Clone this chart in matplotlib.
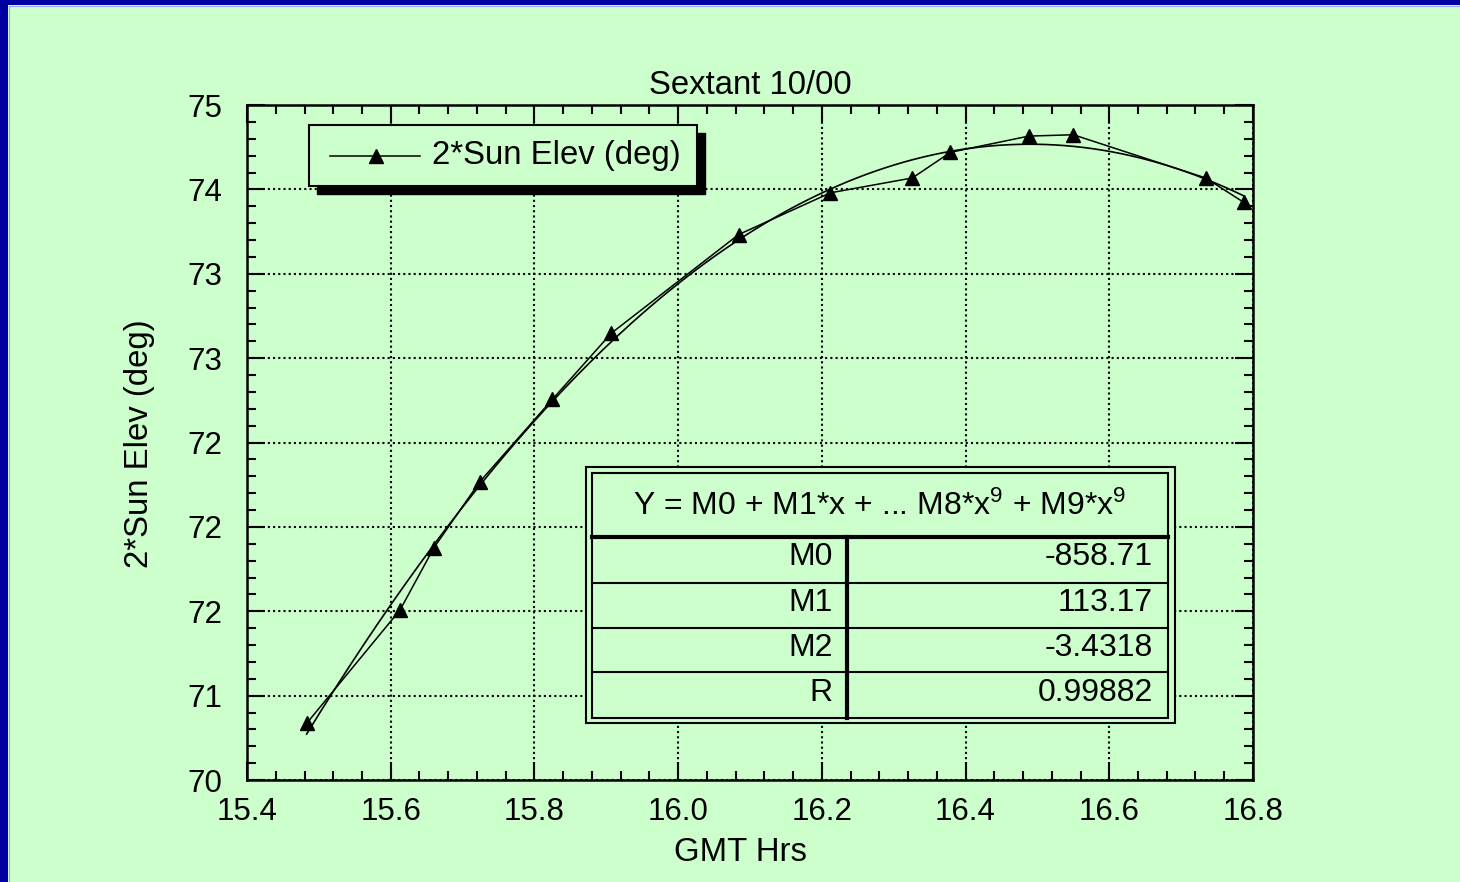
import numpy as np
import matplotlib.pyplot as plt
from matplotlib.patches import Rectangle
from matplotlib.lines import Line2D
from matplotlib.ticker import MultipleLocator

# Sextant readings, 10/00
gmt_hrs = [15.483, 15.613, 15.660, 15.724, 15.825, 15.907, 16.084,
           16.212, 16.326, 16.379, 16.488, 16.550, 16.734, 16.787]
sun_elev = [70.42, 71.26, 71.72, 72.21, 72.82, 73.31, 74.04,
            74.35, 74.46, 74.65, 74.77, 74.78, 74.46, 74.28]

x_ticks = [15.4, 15.6, 15.8, 16.0, 16.2, 16.4, 16.6, 16.8]
x_tick_labels = ["15.4", "15.6", "15.8", "16.0", "16.2", "16.4", "16.6", "16.8"]
y_tick_labels = ["70", "71", "72", "72", "72", "73", "73", "74", "75"]

fit_header = r"Y = M0 + M1*x + ... M8*x$^9$ + M9*x$^9$"
fit_names = ["M0", "M1", "M2", "R"]
fit_values = ["-858.71", "113.17", "-3.4318", "0.99882"]

BG = "#CCFFCC"
BLUE = "#0000A0"

plt.rcParams['font.family'] = ['Liberation Sans', 'DejaVu Sans']
plt.rcParams['mathtext.fontset'] = 'custom'
plt.rcParams['mathtext.rm'] = 'Liberation Sans'
plt.rcParams['mathtext.default'] = 'rm'
FS = 22.5      # tick labels
FS_TEXT = 23.7  # title, axis labels, legend
FS_TABLE = 23.0


def draw_legend(ax):
    """Boxed legend with a solid drop shadow, like the old Mac plot."""
    x0, y0, w, h = 0.0616, 0.880, 0.3857, 0.0904
    ax.add_patch(Rectangle((x0 + 0.008, y0 - 0.012), w, h, transform=ax.transAxes,
                           facecolor='black', edgecolor='black', zorder=6, clip_on=False))
    ax.add_patch(Rectangle((x0, y0), w, h, transform=ax.transAxes,
                           facecolor=BG, edgecolor='black', linewidth=1.5, zorder=7,
                           clip_on=False))
    yc = y0 + h / 2
    ax.add_line(Line2D([0.0825, 0.172], [yc, yc], transform=ax.transAxes,
                       color='black', linewidth=1.1, zorder=8))
    ax.add_line(Line2D([0.1282], [yc], transform=ax.transAxes, marker='^',
                       markersize=10, color='black', zorder=8))
    ax.text(0.1839, yc, "2*Sun Elev (deg)", transform=ax.transAxes, fontsize=FS_TEXT,
            ha='left', va='center', zorder=8)


def draw_fit_table(ax):
    """Curve fit results box in the lower right of the plot."""
    tr = ax.transAxes
    ox0, ox1, oy0, oy1 = 0.3369, 0.9225, 0.0844, 0.4641
    ix0, ix1, iy0, iy1 = 0.3426, 0.9155, 0.0923, 0.4553
    ax.add_patch(Rectangle((ox0, oy0), ox1 - ox0, oy1 - oy0, transform=tr,
                           facecolor=BG, edgecolor='black', linewidth=1.5, zorder=6))
    ax.add_patch(Rectangle((ix0, iy0), ix1 - ix0, iy1 - iy0, transform=tr,
                           facecolor=BG, edgecolor='black', linewidth=1.5, zorder=7))
    header_y = 0.3596
    ax.add_line(Line2D([ix0, ix1], [header_y, header_y], transform=tr,
                       color='black', linewidth=3, zorder=8))
    for yl in [0.2923, 0.2256, 0.1604]:
        ax.add_line(Line2D([ix0, ix1], [yl, yl], transform=tr,
                           color='black', linewidth=1.5, zorder=8))
    ax.add_line(Line2D([0.5961, 0.5961], [iy0, header_y], transform=tr,
                       color='black', linewidth=3, zorder=8))
    ax.text((ix0 + ix1) / 2, 0.4049, fit_header, transform=tr, fontsize=FS_TABLE,
            ha='center', va='center', zorder=9)
    row_y = [0.3308, 0.2622, 0.1956, 0.1289]
    for name, value, yc in zip(fit_names, fit_values, row_y):
        ax.text(0.5821, yc, name, transform=tr, fontsize=FS_TABLE,
                ha='right', va='center', zorder=9)
        ax.text(0.9006, yc, value, transform=tr, fontsize=FS_TABLE,
                ha='right', va='center', zorder=9)


fig = plt.figure(figsize=(14.6, 8.82), dpi=100, facecolor=BG)

# blue frame along top and left edges
fig.add_artist(Rectangle((0, 1 - 5 / 882), 1, 5 / 882, transform=fig.transFigure,
                         facecolor=BLUE, edgecolor='none'))
fig.add_artist(Rectangle((0, 0), 8 / 1460, 1, transform=fig.transFigure,
                         facecolor=BLUE, edgecolor='none'))
fig.add_artist(Line2D([8.5 / 1460, 1], [1 - 5.5 / 882, 1 - 5.5 / 882],
                      transform=fig.transFigure, color='#A0A0FF', linewidth=0.8))
fig.add_artist(Line2D([8.5 / 1460, 8.5 / 1460], [0, 1 - 5.5 / 882],
                      transform=fig.transFigure, color='#A0A0FF', linewidth=0.8))

ax = fig.add_axes([0.1692, 0.1156, 0.689, 0.7653])
ax.set_facecolor(BG)

# quadratic least squares fit of the readings (the fit curve in the plot)
coeffs = np.polyfit(gmt_hrs, sun_elev, 2)
fit_x = np.linspace(gmt_hrs[0], gmt_hrs[-1], 200)
ax.plot(fit_x, np.polyval(coeffs, fit_x), color='black', linewidth=1.2, zorder=4)
ax.plot(gmt_hrs, sun_elev, color='black', linewidth=1.1, marker='^',
        markersize=10, zorder=5)

ax.set_xlim(15.4, 16.8)
ax.set_ylim(70, 75)
ax.set_xticks(x_ticks)
ax.set_xticklabels(x_tick_labels)
ax.set_yticks(np.linspace(70, 75, 9))
ax.set_yticklabels(y_tick_labels)
ax.xaxis.set_minor_locator(MultipleLocator(0.04))
ax.yaxis.set_minor_locator(MultipleLocator(0.125))
ax.tick_params(which='both', direction='in', top=True, right=True, width=1.5,
               labelsize=FS, colors='black')
ax.tick_params(which='major', length=13)
ax.tick_params(which='minor', length=6.5)
ax.tick_params(axis='x', pad=12)
ax.tick_params(axis='y', pad=18)
for sp in ax.spines.values():
    sp.set_linewidth(1.8)

ax.grid(True, which='major', color='black', linestyle=(0, (1, 1.5)), linewidth=1.5)
ax.set_axisbelow(True)

ax.set_title("Sextant 10/00", fontsize=FS_TEXT, pad=8)
ax.set_xlabel("GMT Hrs", fontsize=FS_TEXT)
ax.set_ylabel("2*Sun Elev (deg)", fontsize=FS_TEXT)
ax.xaxis.set_label_coords(0.491, -0.085)
ax.yaxis.set_label_coords(-0.0915, 0.498)

draw_legend(ax)
draw_fit_table(ax)

fig.savefig('out.png', dpi=100, facecolor=fig.get_facecolor())
